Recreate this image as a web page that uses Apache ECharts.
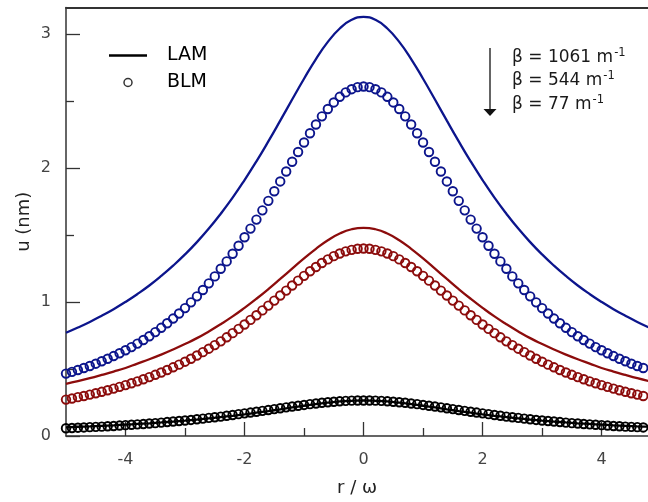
<!DOCTYPE html>
<html>
<head>
<meta charset="utf-8">
<script src="https://cdn.jsdelivr.net/npm/echarts@6/dist/echarts.min.js"></script>
<style>
html,body{margin:0;padding:0;background:#fff;}
#chart{width:648px;height:502px;}
</style>
</head>
<body>
<div id="chart"></div>
<script>
// r / omega positions of the BLM markers (step 0.1)
const rBLM = [-5.0,-4.9,-4.8,-4.7,-4.6,-4.5,-4.4,-4.3,-4.2,-4.1,-4.0,-3.9,-3.8,-3.7,-3.6,-3.5,-3.4,-3.3,-3.2,-3.1,-3.0,-2.9,-2.8,-2.7,-2.6,-2.5,-2.4,-2.3,-2.2,-2.1,-2.0,-1.9,-1.8,-1.7,-1.6,-1.5,-1.4,-1.3,-1.2,-1.1,-1.0,-0.9,-0.8,-0.7,-0.6,-0.5,-0.4,-0.3,-0.2,-0.1,0.0,0.1,0.2,0.3,0.4,0.5,0.6,0.7,0.8,0.9,1.0,1.1,1.2,1.3,1.4,1.5,1.6,1.7,1.8,1.9,2.0,2.1,2.2,2.3,2.4,2.5,2.6,2.7,2.8,2.9,3.0,3.1,3.2,3.3,3.4,3.5,3.6,3.7,3.8,3.9,4.0,4.1,4.2,4.3,4.4,4.5,4.6,4.7,4.8,4.9,5.0];
// BLM, beta = 1061 m^-1
const uBLM1061 = [0.466,0.479,0.493,0.508,0.523,0.540,0.558,0.577,0.597,0.618,0.640,0.664,0.690,0.717,0.745,0.776,0.808,0.842,0.877,0.915,0.955,0.998,1.043,1.090,1.140,1.192,1.249,1.304,1.361,1.421,1.484,1.549,1.616,1.685,1.756,1.828,1.901,1.975,2.048,2.121,2.192,2.261,2.326,2.387,2.442,2.491,2.533,2.566,2.590,2.605,2.610,2.605,2.590,2.566,2.533,2.491,2.442,2.387,2.326,2.261,2.192,2.121,2.048,1.975,1.901,1.828,1.756,1.685,1.616,1.549,1.484,1.421,1.361,1.304,1.249,1.192,1.140,1.090,1.043,0.998,0.955,0.915,0.877,0.842,0.808,0.776,0.745,0.717,0.690,0.664,0.640,0.618,0.597,0.577,0.558,0.540,0.523,0.508,0.493,0.479,0.466];
// BLM, beta = 544 m^-1
const uBLM544 = [0.272,0.280,0.290,0.299,0.309,0.319,0.330,0.342,0.354,0.367,0.380,0.394,0.408,0.424,0.440,0.457,0.474,0.493,0.513,0.533,0.555,0.577,0.601,0.626,0.652,0.679,0.707,0.737,0.768,0.800,0.833,0.867,0.902,0.938,0.974,1.011,1.049,1.086,1.124,1.160,1.196,1.230,1.262,1.292,1.319,1.343,1.363,1.379,1.390,1.398,1.400,1.398,1.390,1.379,1.363,1.343,1.319,1.292,1.262,1.230,1.196,1.160,1.124,1.086,1.049,1.011,0.974,0.938,0.902,0.867,0.833,0.800,0.768,0.737,0.707,0.679,0.652,0.626,0.601,0.577,0.555,0.533,0.513,0.493,0.474,0.457,0.440,0.424,0.408,0.394,0.380,0.367,0.354,0.342,0.330,0.319,0.309,0.299,0.290,0.280,0.272];
// BLM, beta = 77 m^-1
const uBLM77 = [0.058,0.060,0.062,0.064,0.066,0.068,0.070,0.073,0.075,0.078,0.081,0.084,0.087,0.090,0.093,0.096,0.100,0.104,0.108,0.112,0.116,0.120,0.125,0.130,0.135,0.140,0.145,0.151,0.157,0.163,0.169,0.175,0.181,0.188,0.194,0.201,0.207,0.214,0.220,0.226,0.232,0.238,0.243,0.248,0.252,0.256,0.259,0.262,0.264,0.265,0.265,0.265,0.264,0.262,0.259,0.256,0.252,0.248,0.243,0.238,0.232,0.226,0.220,0.214,0.207,0.201,0.194,0.188,0.181,0.175,0.169,0.163,0.157,0.151,0.145,0.140,0.135,0.130,0.125,0.120,0.116,0.112,0.108,0.104,0.100,0.096,0.093,0.090,0.087,0.084,0.081,0.078,0.075,0.073,0.070,0.068,0.066,0.064,0.062,0.060,0.058];

// r / omega positions of the LAM curves (step 0.2)
const rLAM = [-5.0,-4.8,-4.6,-4.4,-4.2,-4.0,-3.8,-3.6,-3.4,-3.2,-3.0,-2.8,-2.6,-2.4,-2.2,-2.0,-1.8,-1.6,-1.4,-1.2,-1.0,-0.8,-0.6,-0.4,-0.2,0.0,0.2,0.4,0.6,0.8,1.0,1.2,1.4,1.6,1.8,2.0,2.2,2.4,2.6,2.8,3.0,3.2,3.4,3.6,3.8,4.0,4.2,4.4,4.6,4.8,5.0];
const uLAM1061 = [0.771,0.810,0.852,0.898,0.947,1.001,1.060,1.124,1.195,1.272,1.356,1.448,1.549,1.660,1.780,1.911,2.051,2.200,2.355,2.513,2.668,2.815,2.943,3.043,3.108,3.130,3.108,3.043,2.943,2.815,2.668,2.513,2.355,2.200,2.051,1.911,1.780,1.660,1.549,1.448,1.356,1.272,1.195,1.124,1.060,1.001,0.947,0.898,0.852,0.810,0.771];
const uLAM544 = [0.390,0.410,0.432,0.456,0.481,0.508,0.541,0.573,0.608,0.646,0.687,0.731,0.781,0.835,0.893,0.957,1.025,1.097,1.173,1.250,1.326,1.398,1.462,1.512,1.544,1.555,1.544,1.512,1.462,1.398,1.326,1.250,1.173,1.097,1.025,0.957,0.893,0.835,0.781,0.731,0.687,0.646,0.608,0.573,0.541,0.508,0.481,0.456,0.432,0.410,0.390];
const uLAM77 = [0.065,0.069,0.072,0.076,0.080,0.085,0.090,0.095,0.101,0.108,0.115,0.123,0.131,0.141,0.151,0.162,0.174,0.186,0.199,0.213,0.226,0.238,0.249,0.258,0.263,0.265,0.263,0.258,0.249,0.238,0.226,0.213,0.199,0.186,0.174,0.162,0.151,0.141,0.131,0.123,0.115,0.108,0.101,0.095,0.090,0.085,0.080,0.076,0.072,0.069,0.065];

// axis range and tick labels
const xRange = [-5, 4.78];
const yRange = [0, 3.2];
const xMajorTicks = [-4, -2, 0, 2, 4];
const xMinorTicks = [-3, -1, 1, 3];
const yMajorTicks = [0, 1, 2, 3];
const yMinorTicks = [0.5, 1.5, 2.5];
const betaLabels = ['β = 1061 m', 'β = 544 m', 'β = 77 m'];

const BLUE = '#0c158c';
const RED = '#8c0c0c';
const BLACK = '#000000';
const AXIS = '#333333';
const FONT = '"DejaVu Sans", "Open Sans", sans-serif';

function zip(xs, ys) { return xs.map((x, i) => [x, ys[i]]); }

function lamSeries(ys, color) {
  return {
    type: 'line', data: zip(rLAM, ys), smooth: true, symbol: 'none',
    lineStyle: { color: color, width: 2.3 }, itemStyle: { color: color },
    silent: true, z: 2
  };
}
function blmSeries(ys, color) {
  return {
    type: 'scatter', data: zip(rBLM, ys), symbol: 'circle', symbolSize: 8.5,
    itemStyle: { color: 'rgba(0,0,0,0)', opacity: 1, borderColor: color, borderWidth: 1.9 },
    silent: true, z: 3
  };
}

const chart = echarts.init(document.getElementById('chart'), null, { renderer: 'canvas' });

const graphics = [];
betaLabels.forEach((t, i) => {
  graphics.push({
    type: 'text', x: 512, y: [58, 81, 105][i],
    style: {
      text: '{a|' + t + '}{s|-1}',
      verticalAlign: 'middle', align: 'left',
      rich: {
        a: { fontSize: 17, fontFamily: FONT, fill: '#1a1a1a', lineHeight: 22 },
        s: { fontSize: 11.5, fontFamily: FONT, fill: '#1a1a1a', verticalAlign: 'top', lineHeight: 22, padding: [0, 0, 0, 1] }
      }
    }
  });
});
graphics.push({ type: 'line', shape: { x1: 490, y1: 48, x2: 490, y2: 110 }, style: { stroke: '#111', lineWidth: 1.3 } });
graphics.push({ type: 'polygon', shape: { points: [[483.5, 109], [496.5, 109], [490, 116]] }, style: { fill: '#111' } });

chart.setOption({
  animation: false,
  backgroundColor: '#ffffff',
  textStyle: { fontFamily: FONT },
  grid: { left: 66, top: 7.5, right: 0, bottom: 63, show: false },
  legend: {
    orient: 'vertical', left: 109, top: 46, padding: 0, itemWidth: 38, itemHeight: 8, itemGap: 8,
    selectedMode: false,
    textStyle: { fontSize: 19, color: '#000', fontFamily: FONT, padding: [0, 0, 0, 15] },
    data: [
      { name: 'LAM', icon: 'path://M0 0H38V2.5H0Z', itemStyle: { color: '#000' } },
      { name: 'BLM', icon: 'circle', itemStyle: { color: 'rgba(0,0,0,0)', borderColor: '#000', borderWidth: 1.5 } }
    ]
  },
  xAxis: [
    {
      type: 'value', min: xRange[0], max: xRange[1], position: 'bottom',
      axisLine: { show: true, onZero: false, lineStyle: { color: AXIS, width: 1.5 } },
      axisTick: { show: true, inside: true, length: 14, customValues: xMajorTicks, lineStyle: { color: AXIS, width: 1.3 } },
      axisLabel: { customValues: xMajorTicks, fontSize: 16, color: '#444', margin: 16, fontFamily: FONT },
      splitLine: { show: false },
      name: 'r / ω', nameLocation: 'middle', nameGap: 43,
      nameTextStyle: { fontSize: 18, color: '#222', fontFamily: FONT }
    },
    {
      type: 'value', min: xRange[0], max: xRange[1], position: 'bottom',
      axisLine: { show: false, onZero: false },
      axisTick: { show: true, inside: true, length: 8, customValues: xMinorTicks, lineStyle: { color: AXIS, width: 1.3 } },
      axisLabel: { show: false },
      splitLine: { show: false }
    },
    {
      type: 'value', min: xRange[0], max: xRange[1], position: 'top',
      axisLine: { show: true, onZero: false, lineStyle: { color: AXIS, width: 1.8 } },
      axisTick: { show: false }, axisLabel: { show: false }, splitLine: { show: false }
    }
  ],
  yAxis: [
    {
      type: 'value', min: yRange[0], max: yRange[1], position: 'left',
      axisLine: { show: true, onZero: false, lineStyle: { color: AXIS, width: 1.5 } },
      axisTick: { show: true, inside: true, length: 14, customValues: yMajorTicks, lineStyle: { color: AXIS, width: 1.3 } },
      axisLabel: { customValues: yMajorTicks, fontSize: 16, color: '#444', margin: 15, fontFamily: FONT },
      splitLine: { show: false },
      name: 'u (nm)', nameLocation: 'middle', nameGap: 33, nameMoveOverlap: false,
      nameTextStyle: { fontSize: 18, color: '#222', fontFamily: FONT }
    },
    {
      type: 'value', min: yRange[0], max: yRange[1], position: 'left',
      axisLine: { show: false, onZero: false },
      axisTick: { show: true, inside: true, length: 8, customValues: yMinorTicks, lineStyle: { color: AXIS, width: 1.3 } },
      axisLabel: { show: false },
      splitLine: { show: false }
    }
  ],
  graphic: graphics,
  series: [
    lamSeries(uLAM1061, BLUE),
    lamSeries(uLAM544, RED),
    lamSeries(uLAM77, BLACK),
    blmSeries(uBLM1061, BLUE),
    blmSeries(uBLM544, RED),
    blmSeries(uBLM77, BLACK),
    { name: 'LAM', type: 'line', data: [], symbol: 'none', color: '#000', lineStyle: { color: '#000', width: 2.5 } },
    { name: 'BLM', type: 'scatter', data: [], symbol: 'circle', color: '#000' }
  ]
});
</script>
</body>
</html>
